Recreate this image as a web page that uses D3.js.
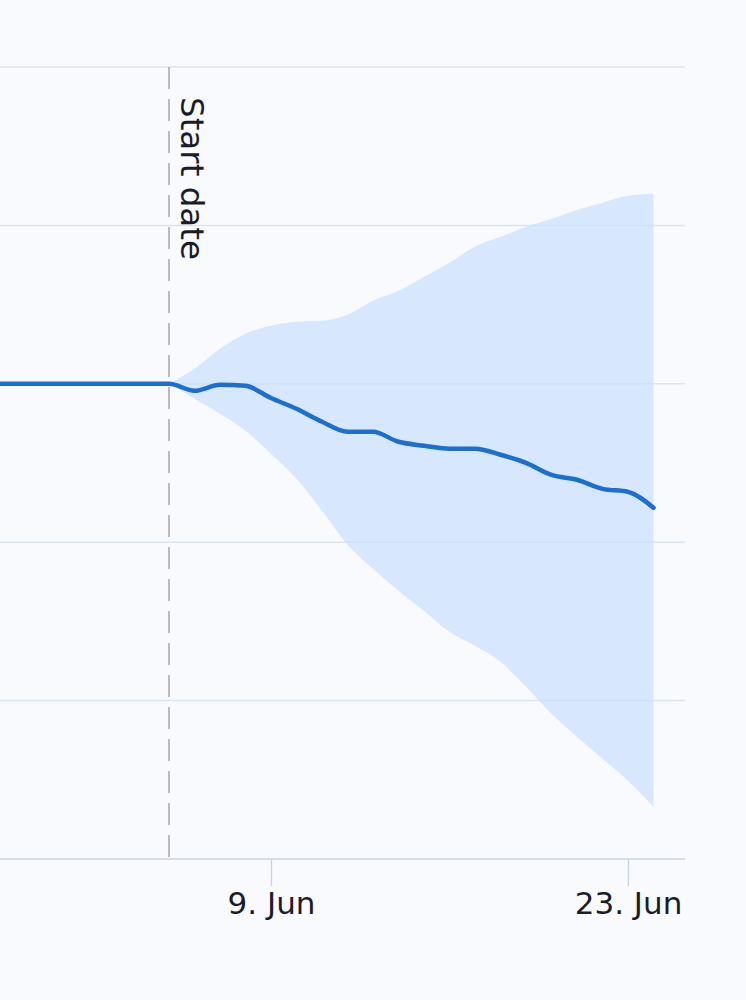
<!DOCTYPE html>
<html>
<head>
<meta charset="utf-8">
<script src="https://cdn.jsdelivr.net/npm/d3@7"></script>
<style>
  html, body { margin: 0; padding: 0; background: #f7f9fc; }
  svg { display: block; }
</style>
</head>
<body>
<svg id="chart" width="746" height="1000"></svg>
<script>
// ---- data ----
const lineDates = ["2020-05-28","2020-05-29","2020-05-30","2020-05-31","2020-06-01","2020-06-02","2020-06-03","2020-06-04","2020-06-05",
  "2020-06-06","2020-06-07","2020-06-08","2020-06-09","2020-06-10","2020-06-11","2020-06-12","2020-06-13","2020-06-14","2020-06-15",
  "2020-06-16","2020-06-17","2020-06-18","2020-06-19","2020-06-20","2020-06-21","2020-06-22","2020-06-23","2020-06-24"];
const lineValues = [3,3,3,3,3,3,3,3,3,
  2.956,2.994,2.987,2.91,2.842,2.76,2.697,2.697,2.634,2.609,
  2.59,2.59,2.552,2.501,2.425,2.394,2.337,2.318,2.217];

const bandDates = ["2020-06-05","2020-06-06","2020-06-07","2020-06-08","2020-06-09","2020-06-10","2020-06-11","2020-06-12","2020-06-13","2020-06-14",
  "2020-06-15","2020-06-16","2020-06-17","2020-06-18","2020-06-19","2020-06-20","2020-06-21","2020-06-22","2020-06-23","2020-06-24"];
const bandUpper = [3.0,3.095,3.221,3.316,3.366,3.391,3.398,3.436,3.524,3.587,
  3.675,3.764,3.865,3.928,3.991,4.042,4.098,4.143,4.187,4.2];
const bandLower = [3.0,2.905,2.811,2.703,2.558,2.4,2.198,1.984,1.832,1.693,
  1.566,1.434,1.346,1.245,1.087,0.917,0.772,0.633,0.494,0.33];

const startDate = "2020-06-05";
const startLabel = "Start date";
const xTickDates = ["2020-06-09","2020-06-23"];
const xTickLabels = ["9. Jun","23. Jun"];
const yGridValues = [1,2,3,4,5];

// ---- layout ----
const plotLeft = 0, plotRight = 685, plotTop = 67, plotBottom = 859;
const parse = d3.utcParse("%Y-%m-%d");

const x = d3.scaleUtc()
  .domain([parse("2020-06-09"), parse("2020-06-23")])
  .range([271, 628]);
const y = d3.scaleLinear().domain([0, 5]).range([plotBottom, plotTop]);

const svg = d3.select("#chart");
svg.append("rect").attr("width", 746).attr("height", 1000).attr("fill", "#f8fafd");

svg.append("defs").append("clipPath").attr("id", "clip")
  .append("rect").attr("x", plotLeft).attr("y", 0)
  .attr("width", plotRight - plotLeft).attr("height", plotBottom);

// gridlines
svg.append("g").selectAll("line").data(yGridValues).join("line")
  .attr("x1", plotLeft).attr("x2", plotRight)
  .attr("y1", d => y(d)).attr("y2", d => y(d))
  .attr("stroke", "#dce4ee").attr("stroke-width", 1.5);

const g = svg.append("g").attr("clip-path", "url(#clip)");

// band
const band = bandDates.map((d, i) => ({ date: parse(d), lo: bandLower[i], hi: bandUpper[i] }));
g.append("path").datum(band)
  .attr("fill", "#cadffc").attr("fill-opacity", 0.72)
  .attr("d", d3.area().curve(d3.curveMonotoneX)
    .x(d => x(d.date)).y0(d => y(d.lo)).y1(d => y(d.hi)));

// start date plot line
const sx = x(parse(startDate));
svg.append("line")
  .attr("x1", sx).attr("x2", sx).attr("y1", plotTop).attr("y2", plotBottom)
  .attr("stroke", "#9a9a9a").attr("stroke-width", 1.3)
  .attr("stroke-dasharray", "22,10");
svg.append("text")
  .attr("transform", `translate(${sx + 12},97) rotate(90)`)
  .attr("font-family", "DejaVu Sans, Verdana, sans-serif")
  .attr("font-size", 32.5)
  .attr("fill", "#1c1b2a")
  .text(startLabel);

// line
const line = lineDates.map((d, i) => ({ date: parse(d), v: lineValues[i] }));
g.append("path").datum(line)
  .attr("fill", "none").attr("stroke", "#1b6fcf").attr("stroke-width", 4.5)
  .attr("stroke-linejoin", "round").attr("stroke-linecap", "round")
  .attr("d", d3.line().curve(d3.curveMonotoneX).x(d => x(d.date)).y(d => y(d.v)));

// x axis
const xAxis = d3.axisBottom(x)
  .tickValues(xTickDates.map(parse))
  .tickFormat((d, i) => xTickLabels[i])
  .tickSize(27).tickPadding(6).tickSizeOuter(0);
const ax = svg.append("g").attr("transform", `translate(0,${plotBottom})`).call(xAxis);
ax.select(".domain").remove();
ax.append("line").attr("x1", plotLeft).attr("x2", plotRight).attr("y1", 0).attr("y2", 0)
  .attr("stroke", "#c8d3e0").attr("stroke-width", 1.5);
ax.selectAll(".tick line").attr("stroke", "#c8d3e0").attr("stroke-width", 1.3);
ax.selectAll(".tick text")
  .attr("font-family", "DejaVu Sans, Verdana, sans-serif")
  .attr("font-size", 31).attr("fill", "#1c1b2a");
</script>
</body>
</html>
